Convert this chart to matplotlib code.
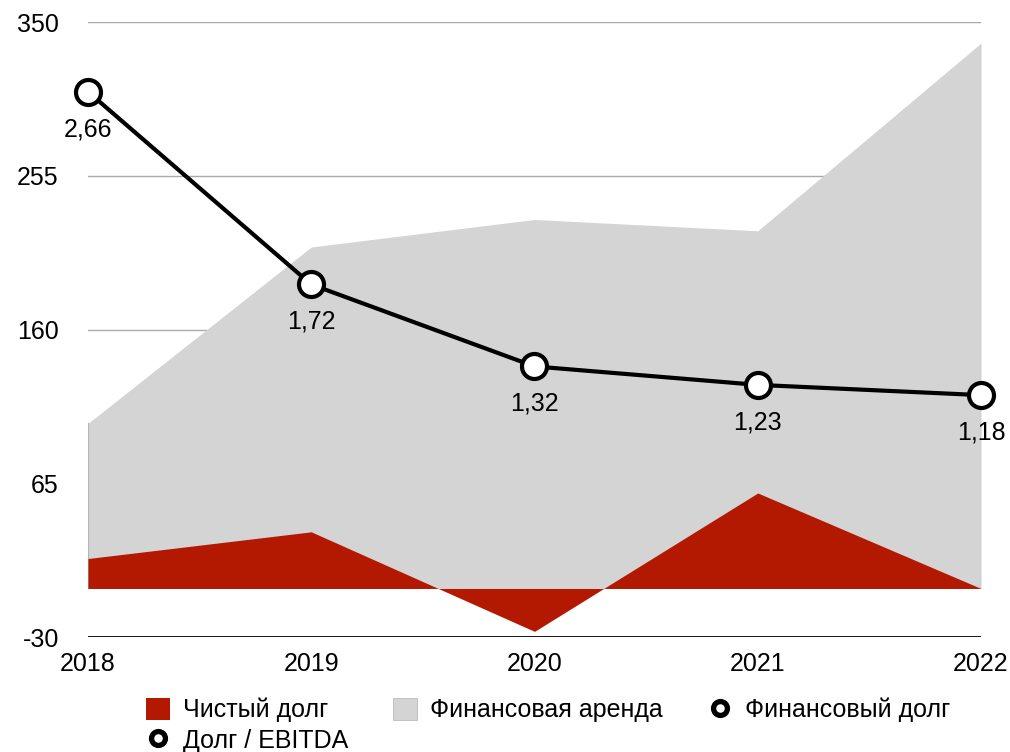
import matplotlib.pyplot as plt
from matplotlib.lines import Line2D
from matplotlib.patches import Patch

plt.rcParams['font.family'] = ['Liberation Sans', 'DejaVu Sans']

# data
years = [2018, 2019, 2020, 2021, 2022]
net_debt = [18.5, 35, -26.5, 59, 0]
fin_lease = [102, 211, 228, 221, 337]
debt_ebitda = [2.66, 1.72, 1.32, 1.23, 1.18]
ebitda_labels = ['2,66', '1,72', '1,32', '1,23', '1,18']
yticks = [-30, 65, 160, 255, 350]

red = '#b31800'
grey = '#d4d4d4'
fs = 18

fig = plt.figure(figsize=(10.1, 7.52), dpi=100)
ax = fig.add_axes([0.0871, 0.1529, 0.8842, 0.8178])

ax.fill_between(years, 0, fin_lease, color=grey, lw=0, zorder=1)
# thin darker side edges of the grey area
ax.plot([years[0], years[0]], [0, fin_lease[0]], color='#b5b5b5', lw=0.9, zorder=1)
ax.plot([years[-1], years[-1]], [0, fin_lease[-1]], color='#b5b5b5', lw=0.9, zorder=1)
ax.fill_between(years, 0, net_debt, color=red, lw=0, zorder=2)

ax.set_xlim(years[0], years[-1])
ax.set_ylim(-30, 350)
ax.set_yticks(yticks)
ax.set_yticklabels([str(t) for t in yticks])
ax.set_xticks(years)
ax.tick_params(axis='y', length=0, pad=21, labelsize=fs)
ax.tick_params(axis='x', length=0, pad=11, labelsize=fs)
for t in yticks[1:]:
    ax.axhline(t, color='#aaaaaa', lw=1, zorder=0)
ax.axhline(-30, color='black', lw=2, zorder=3)
for s in ax.spines.values():
    s.set_visible(False)

# Debt / EBITDA on a hidden second scale
ax2 = ax.twinx()
ax2.set_ylim(0, 3)
ax2.set_yticks([])
for s in ax2.spines.values():
    s.set_visible(False)
ax2.plot(years, debt_ebitda, color='black', lw=3, marker='o', ms=18,
         mfc='white', mec='black', mew=3, clip_on=False, zorder=5)
for x, v, lab in zip(years, debt_ebitda, ebitda_labels):
    ax2.annotate(lab, (x, v), xytext=(0, -27), textcoords='offset points',
                 ha='center', va='center', fontsize=fs)

handles = [
    Patch(facecolor=red, edgecolor='none', label='Чистый долг'),
    Line2D([], [], color='none', marker='o', ms=10, mfc='white', mec='black', mew=3.8,
           label='Долг / EBITDA'),
    Patch(facecolor=grey, edgecolor='#bbbbbb', lw=0.6, label='Финансовая аренда'),
    Line2D([], [], color='none', marker='o', ms=10, mfc='white', mec='black', mew=3.8,
           label='Финансовый долг'),
]
fig.legend(handles=handles, ncol=3, loc='upper left', bbox_to_anchor=(0.1446, 0.072),
           frameon=False, fontsize=fs, handlelength=0.96, handleheight=0.96,
           handletextpad=0.52, columnspacing=1.8, labelspacing=0.25, borderpad=0,
           borderaxespad=0)

fig.savefig('out.png', dpi=100)
